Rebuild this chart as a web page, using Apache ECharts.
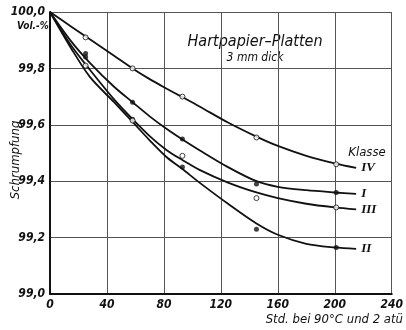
<!DOCTYPE html>
<html><head><meta charset="utf-8">
<script src="https://cdn.jsdelivr.net/npm/echarts@6/dist/echarts.min.js"></script>
<style>html,body{margin:0;padding:0;background:#fff}#c{width:406px;height:330px}</style>
</head><body><div id="c"></div>
<script>
// Smoothed trend curves
const curveHours = [0, 15, 28, 45, 58, 70, 82, 93, 105, 125, 145, 160, 180, 200, 215];
const curveIV  = [100, 99.948, 99.903, 99.845, 99.80, 99.762, 99.728, 99.698, 99.665, 99.608, 99.558, 99.525, 99.49, 99.463, 99.447];
const curveI   = [100, 99.895, 99.82, 99.735, 99.68, 99.63, 99.585, 99.548, 99.51, 99.45, 99.40, 99.38, 99.368, 99.36, 99.355];
const curveIII = [100, 99.88, 99.795, 99.69, 99.62, 99.56, 99.51, 99.475, 99.44, 99.395, 99.36, 99.34, 99.32, 99.307, 99.30];
const curveII  = [100, 99.87, 99.77, 99.68, 99.61, 99.545, 99.485, 99.443, 99.395, 99.32, 99.25, 99.21, 99.178, 99.165, 99.16];

// Measured points
const pointHours = [25, 58, 93, 145, 201];
const pointsIV  = [99.91, 99.80, 99.70, 99.555, 99.46];
const pointsI   = [99.853, 99.68, 99.55, 99.39, 99.36];
const pointsIII = [99.81, 99.615, 99.49, 99.34, 99.307];
const pointsII  = [99.84, 99.62, 99.45, 99.23, 99.165];

const classNames = ['I', 'II', 'III', 'IV'];
const curves = {I: curveI, II: curveII, III: curveIII, IV: curveIV};
const points = {I: pointsI, II: pointsII, III: pointsIII, IV: pointsIV};
const filled = {I: true, II: true, III: false, IV: false};

const FONT = "'Liberation Sans Narrow', 'DejaVu Sans Condensed', 'Liberation Sans', sans-serif";
const chart = echarts.init(document.getElementById('c'), null, {renderer: 'canvas'});

const series = [];
classNames.forEach(function (n) {
  series.push({
    name: n, type: 'line', smooth: 0.3, symbol: 'none', z: 2,
    data: curveHours.map(function (h, i) { return [h, curves[n][i]]; }),
    lineStyle: {color: '#111', width: 1.8},
    endLabel: {show: true, formatter: '{a}', distance: 5, color: '#111',
      fontFamily: "'Liberation Serif', serif", fontStyle: 'italic', fontWeight: 'bold', fontSize: 13}
  });
  series.push({
    name: n + ' Messwerte', type: 'scatter', z: 3, symbol: 'circle', symbolSize: 5,
    data: pointHours.map(function (h, i) { return [h, points[n][i]]; }),
    itemStyle: filled[n] ? {color: '#111'} : {color: '#fff', borderColor: '#111', borderWidth: 1}
  });
});

chart.setOption({
  animation: false,
  backgroundColor: '#fff',
  grid: {left: 50, right: 14, top: 12, bottom: 36},
  xAxis: {
    type: 'value', min: 0, max: 240, interval: 40,
    axisLine: {show: true, lineStyle: {color: '#111', width: 2}},
    axisTick: {show: false},
    splitLine: {show: true, lineStyle: {color: '#555', width: 1}},
    axisLabel: {margin: 5, color: '#111', fontFamily: FONT, fontStyle: 'italic', fontWeight: 'bold', fontSize: 12}
  },
  yAxis: {
    type: 'value', min: 99, max: 100, interval: 0.2,
    axisLine: {show: true, lineStyle: {color: '#111', width: 2}},
    axisTick: {show: false},
    splitLine: {show: true, lineStyle: {color: '#555', width: 1}},
    axisLabel: {margin: 5, color: '#111', fontFamily: FONT, fontStyle: 'italic', fontWeight: 'bold', fontSize: 12,
      formatter: function (v) { return v.toFixed(1).replace('.', ','); }}
  },
  graphic: [
    {type: 'text', left: 17, top: 21, style: {text: 'Vol.-%', fill: '#111', font: "italic bold 10px " + FONT}},
    {type: 'text', x: 16, y: 160, rotation: Math.PI / 2,
      style: {text: 'Schrumpfung', fill: '#111', font: "italic 13px " + FONT, align: 'center', verticalAlign: 'middle'}},
    {type: 'text', x: 255, y: 42,
      style: {text: 'Hartpapier\u2013Platten', fill: '#111', font: "italic 16px " + FONT, align: 'center', verticalAlign: 'middle'}},
    {type: 'text', x: 255, y: 58,
      style: {text: '3 mm dick', fill: '#111', font: "italic 12px " + FONT, align: 'center', verticalAlign: 'middle'}},
    {type: 'text', x: 367, y: 153,
      style: {text: 'Klasse', fill: '#111', font: "italic 13px " + FONT, align: 'center', verticalAlign: 'middle'}},
    {type: 'text', x: 403, y: 320,
      style: {text: 'Std. bei 90\u00b0C und 2 at\u00fc', fill: '#111', font: "italic 13px " + FONT, align: 'right', verticalAlign: 'middle'}}
  ],
  series: series
});
</script></body></html>
